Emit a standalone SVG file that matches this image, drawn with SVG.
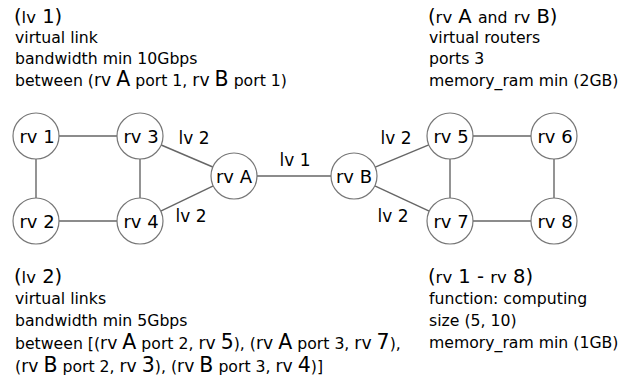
<svg xmlns="http://www.w3.org/2000/svg" width="619" height="381" viewBox="0 0 619 381">
<style>
text{font-family:"DejaVu Sans","Bitstream Vera Sans",sans-serif;fill:#000}
.b{font-size:15.7px}
.h{font-size:19.5px}
.s{font-size:16.5px}
.h2{font-size:20.5px}
.s2{font-size:17.2px}
.n{font-size:18px;text-anchor:middle}
.l{font-size:17px;text-anchor:middle}
circle{fill:#fff;stroke:#777;stroke-width:1.2}
.e line{stroke:#666;stroke-width:1.4}
</style>
<rect width="619" height="381" fill="#fff"/>
<g class="e" id="connectors">
<line x1="59" y1="136" x2="117" y2="136"/>
<line x1="36" y1="159" x2="36" y2="198"/>
<line x1="140" y1="159" x2="140" y2="198"/>
<line x1="59" y1="221" x2="117" y2="221"/>
<line x1="161.2" y1="145" x2="212.8" y2="167"/>
<line x1="160.7" y1="211.1" x2="213.3" y2="185.9"/>
<line x1="257" y1="176" x2="331" y2="176"/>
<line x1="375.2" y1="167.2" x2="428.8" y2="144.8"/>
<line x1="374.8" y1="185.8" x2="429.2" y2="211.2"/>
<line x1="473" y1="136" x2="531" y2="136"/>
<line x1="450" y1="159" x2="450" y2="198"/>
<line x1="554" y1="159" x2="554" y2="198"/>
<line x1="473" y1="221" x2="531" y2="221"/>
</g>
<g id="edge-labels">
<text class="l" x="194" y="144">lv 2</text>
<text class="l" x="191" y="222">lv 2</text>
<text class="l" x="295" y="166">lv 1</text>
<text class="l" x="396" y="144">lv 2</text>
<text class="l" x="393" y="222">lv 2</text>
</g>
<g id="rv1"><circle cx="36" cy="136" r="23"/><text class="n" x="37" y="143">rv 1</text></g>
<g id="rv2"><circle cx="36" cy="221" r="23"/><text class="n" x="37" y="228">rv 2</text></g>
<g id="rv3"><circle cx="140" cy="136" r="23"/><text class="n" x="141" y="143">rv 3</text></g>
<g id="rv4"><circle cx="140" cy="221" r="23"/><text class="n" x="141" y="228">rv 4</text></g>
<g id="rvA"><circle cx="234" cy="176" r="23"/><text class="n" x="234" y="183">rv A</text></g>
<g id="rvB"><circle cx="354" cy="176" r="23"/><text class="n" x="354" y="183">rv B</text></g>
<g id="rv5"><circle cx="450" cy="136" r="23"/><text class="n" x="451" y="143">rv 5</text></g>
<g id="rv6"><circle cx="554" cy="136" r="23"/><text class="n" x="555" y="143">rv 6</text></g>
<g id="rv7"><circle cx="450" cy="221" r="23"/><text class="n" x="451" y="228">rv 7</text></g>
<g id="rv8"><circle cx="554" cy="221" r="23"/><text class="n" x="555" y="228">rv 8</text></g>
<g id="note-lv1">
<text class="h" x="14" y="23">(<tspan class="s">lv</tspan> 1)</text>
<text class="b" x="15" y="43">virtual link</text>
<text class="b" x="15" y="64">bandwidth min 10Gbps</text>
<text class="b" x="15" y="86">between (<tspan class="s2">rv</tspan> <tspan class="h2">A</tspan> port 1, <tspan class="s2">rv</tspan> <tspan class="h2">B</tspan> port 1)</text>
</g>
<g id="note-rvAB">
<text class="h" x="428" y="23">(<tspan class="s">rv</tspan> A <tspan class="b">and</tspan> <tspan class="s">rv</tspan> B)</text>
<text class="b" x="429" y="43">virtual routers</text>
<text class="b" x="429" y="64">ports 3</text>
<text class="b" x="429" y="86">memory_ram min (2GB)</text>
</g>
<g id="note-lv2">
<text class="h" x="14" y="283">(<tspan class="s">lv</tspan> 2)</text>
<text class="b" x="15" y="304">virtual links</text>
<text class="b" x="15" y="326">bandwidth min 5Gbps</text>
<text class="b" x="15" y="349">between [(<tspan class="s2">rv</tspan> <tspan class="h2">A</tspan> port 2, <tspan class="s2">rv</tspan> <tspan class="h2">5</tspan>), (<tspan class="s2">rv</tspan> <tspan class="h2">A</tspan> port 3, <tspan class="s2">rv</tspan> <tspan class="h2">7</tspan>),</text>
<text class="b" x="15" y="372">(<tspan class="s2">rv</tspan> <tspan class="h2">B</tspan> port 2, <tspan class="s2">rv</tspan> <tspan class="h2">3</tspan>), (<tspan class="s2">rv</tspan> <tspan class="h2">B</tspan> port 3, <tspan class="s2">rv</tspan> <tspan class="h2">4</tspan>)]</text>
</g>
<g id="note-rv1-8">
<text class="h" x="428" y="283">(<tspan class="s">rv</tspan> 1 - <tspan class="s">rv</tspan> 8)</text>
<text class="b" x="429" y="304">function: computing</text>
<text class="b" x="429" y="326">size (5, 10)</text>
<text class="b" x="429" y="348">memory_ram min (1GB)</text>
</g>
</svg>
